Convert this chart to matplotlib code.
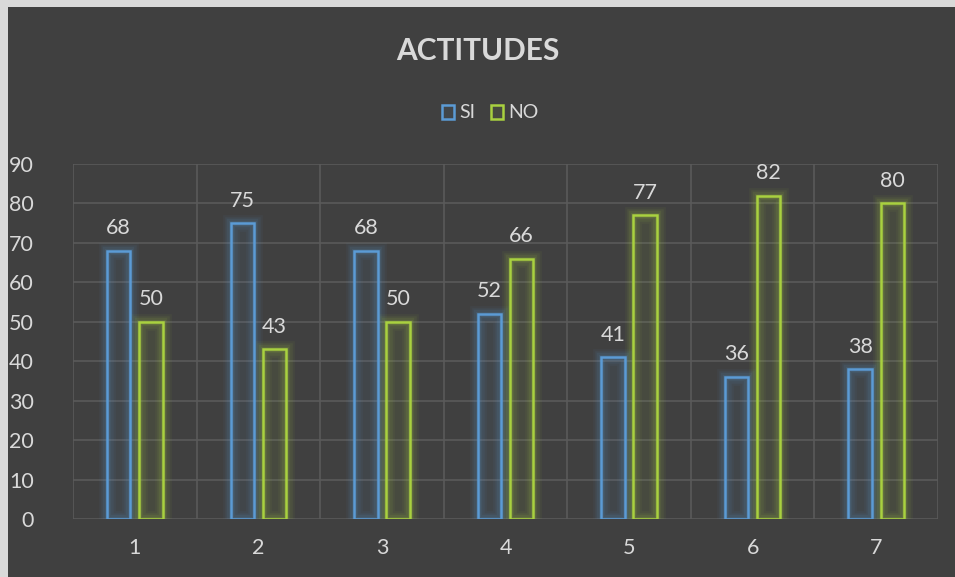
import matplotlib
matplotlib.use("Agg")
import matplotlib.pyplot as plt
import numpy as np
from matplotlib.patches import Rectangle
from matplotlib.colors import to_rgba

categories = ["1", "2", "3", "4", "5", "6", "7"]
si = [68, 75, 68, 52, 41, 36, 38]
no = [50, 43, 50, 66, 77, 82, 80]
series_names = ["SI", "NO"]
yticks = [0, 10, 20, 30, 40, 50, 60, 70, 80, 90]

BG = "#404040"
TXT = "#D9D9D9"
GRID = "#5A5A5A"
BLUE = "#5B9BD5"
GREEN = "#A9D13F"

plt.rcParams["font.family"] = ["Lato", "DejaVu Sans"]

fig = plt.figure(figsize=(9.55, 5.77), dpi=100)
fig.patch.set_facecolor("#D9D9D9")
fig.add_artist(Rectangle((8 / 955, 0), 1, 1 - 7 / 577, transform=fig.transFigure,
                         facecolor=BG, edgecolor="none", zorder=0))

ax = fig.add_axes([73 / 955, 58 / 577, 865 / 955, 355 / 577])
ax.set_facecolor(BG)

x = np.arange(len(categories))
w = 0.19
off = 0.13

for vals, col, sign, name in [(si, BLUE, -1, series_names[0]), (no, GREEN, 1, series_names[1])]:
    pos = x + sign * off
    # glow
    for lw, a in [(12, 0.05), (9, 0.07), (6, 0.09), (3.5, 0.12)]:
        ax.bar(pos, vals, width=w, facecolor="none", edgecolor=to_rgba(col, a),
               linewidth=lw, zorder=2)
    ax.bar(pos, vals, width=w, facecolor=to_rgba(col, 0.07), edgecolor=col,
           linewidth=1.8, zorder=3, label=name)
    for p, v in zip(pos, vals):
        ax.annotate(str(v), (p, v), xytext=(0, 9), textcoords="offset points",
                    ha="center", va="bottom", color=TXT, fontsize=15.5)

ax.set_xlim(-0.5, len(categories) - 0.5)
ax.set_ylim(0, 90)
ax.set_yticks(yticks)
ax.set_xticks(x)
ax.set_xticklabels(categories)
ax.set_xticks(np.arange(len(categories) + 1) - 0.5, minor=True)
ax.grid(axis="y", which="major", color=GRID, linewidth=1.2, zorder=0)
ax.grid(axis="x", which="minor", color=GRID, linewidth=1.2, zorder=0)
ax.set_axisbelow(True)
ax.tick_params(axis="both", which="both", length=0, colors=TXT, labelsize=15.5)
ax.tick_params(axis="x", pad=14)
ax.tick_params(axis="y", pad=28)
for s in ax.spines.values():
    s.set_visible(False)

fig.text(478 / 955, 1 - 51 / 577, "ACTITUDES", ha="center", va="center",
         color=TXT, fontsize=21.5, fontweight="bold")

leg = fig.legend(*ax.get_legend_handles_labels(), loc="center",
                 bbox_to_anchor=(490 / 955, 1 - 113 / 577), ncol=2, frameon=False,
                 fontsize=14, labelcolor=TXT, handlelength=0.65, handleheight=0.75,
                 handletextpad=0.25, columnspacing=0.8)

fig.savefig("out.png", dpi=100, facecolor=fig.get_facecolor())
